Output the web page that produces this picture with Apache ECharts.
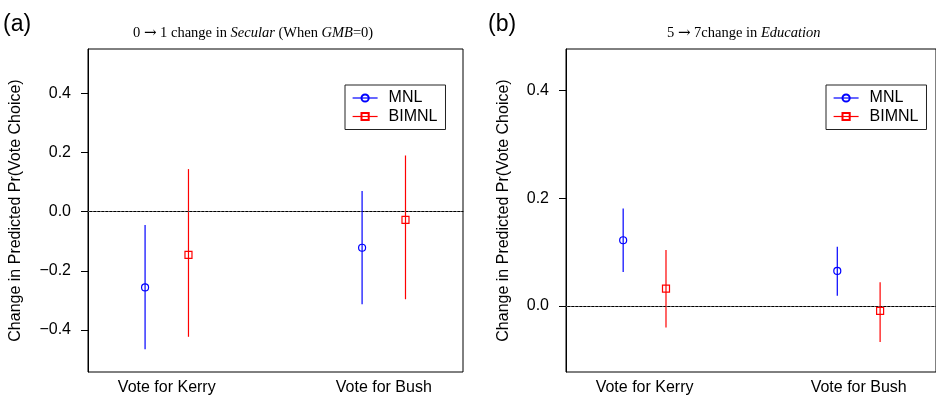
<!DOCTYPE html>
<html>
<head>
<meta charset="utf-8">
<script src="https://cdn.jsdelivr.net/npm/echarts@6/dist/echarts.min.js"></script>
<style>
  html, body { margin: 0; padding: 0; background: #fff; }
  #chart { width: 936px; height: 398px; }
</style>
</head>
<body>
<div id="chart"></div>
<script>
const categories = ['Vote for Kerry', 'Vote for Bush']

// panel (a): 0 -> 1 change in Secular
const mnlA = [-0.256, -0.122]
const mnlALow = [-0.465, -0.313]
const mnlAHigh = [-0.045, 0.070]
const bimnlA = [-0.146, -0.028]
const bimnlALow = [-0.423, -0.296]
const bimnlAHigh = [0.144, 0.190]

// panel (b): 5 -> 7 change in Education
const mnlB = [0.122, 0.065]
const mnlBLow = [0.063, 0.019]
const mnlBHigh = [0.181, 0.110]
const bimnlB = [0.032, -0.009]
const bimnlBLow = [-0.040, -0.067]
const bimnlBHigh = [0.104, 0.044]

const yTicksA = [-0.4, -0.2, 0, 0.2, 0.4]
const yTicksB = [0, 0.2, 0.4]

const BLUE = '#0000ff'
const RED = '#ff0000'
const SANS = 'Liberation Sans'
const SERIF = 'Liberation Serif'

const catPos = categories.map((c, i) => i + 1)
const OFFSET = 0.1

function fmtTick(v) {
  return (v < 0 ? '\u2212' : '') + Math.abs(v).toFixed(1)
}

function pointData(vals, off) {
  return vals.map((v, i) => [catPos[i] + off, v])
}

function barData(lo, hi, off) {
  return lo.map((v, i) => [catPos[i] + off, v, hi[i]])
}

function errorBars(idx, lo, hi, off, color) {
  return {
    type: 'custom',
    xAxisIndex: idx,
    yAxisIndex: idx,
    silent: true,
    z: 2,
    data: barData(lo, hi, off),
    encode: { x: 0, y: [1, 2] },
    renderItem: (params, api) => {
      let p1 = api.coord([api.value(0), api.value(1)])
      let p2 = api.coord([api.value(0), api.value(2)])
      return {
        type: 'line',
        shape: { x1: p1[0], y1: p1[1], x2: p2[0], y2: p2[1] },
        style: { stroke: color, lineWidth: 1.2 }
      }
    }
  }
}

function points(idx, name, vals, off, color, symbol, zeroLine) {
  let s = {
    type: 'line',
    name: name,
    xAxisIndex: idx,
    yAxisIndex: idx,
    data: pointData(vals, off),
    symbol: symbol,
    symbolSize: 7,
    showAllSymbol: true,
    z: 3,
    lineStyle: { color: color, opacity: 0 },
    itemStyle: { color: 'rgba(255,255,255,0)', borderColor: color, borderWidth: 1.2 }
  }
  if (zeroLine) {
    s.markLine = {
      silent: true,
      symbol: ['none', 'none'],
      label: { show: false },
      lineStyle: { type: [1.5, 2.5], color: '#666', width: 1 },
      data: [{ yAxis: 0 }]
    }
  }
  return s
}

function yAxisFor(idx, min, max, ticks, gap) {
  return {
    type: 'value',
    gridIndex: idx,
    min: min,
    max: max,
    name: 'Change in Predicted Pr(Vote Choice)',
    nameLocation: 'middle',
    nameRotate: 90,
    nameGap: gap,
    nameTextStyle: { fontFamily: SANS, fontSize: 16, color: '#000' },
    axisLine: { show: true, lineStyle: { color: '#000', width: 1 } },
    axisTick: { show: true, length: 7, customValues: ticks, lineStyle: { color: '#000' } },
    axisLabel: {
      customValues: ticks,
      formatter: fmtTick,
      margin: 17,
      fontFamily: SANS,
      fontSize: 16,
      color: '#000'
    },
    splitLine: { show: false }
  }
}

function xAxisFor(idx, min, max) {
  return {
    type: 'value',
    gridIndex: idx,
    min: min,
    max: max,
    axisLine: { show: true, lineStyle: { color: '#000', width: 1 } },
    axisTick: { show: false },
    axisLabel: {
      customValues: catPos,
      formatter: v => categories[Math.round(v) - 1],
      margin: 8,
      fontFamily: SANS,
      fontSize: 16,
      color: '#000'
    },
    splitLine: { show: false }
  }
}

function legendAt(left) {
  return {
    data: ['MNL', 'BIMNL'],
    orient: 'vertical',
    left: left,
    top: 85,
    padding: [5, 8, 5, 7],
    itemWidth: 25,
    itemHeight: 9,
    itemGap: 2.5,
    borderColor: '#222',
    borderWidth: 1,
    lineStyle: { opacity: 1, width: 1.2 },
    textStyle: { fontFamily: SANS, fontSize: 16, color: '#000', padding: [0, 0, 0, 6] }
  }
}

const titleStyle = {
  fontFamily: SERIF,
  fontSize: 14.5,
  fontWeight: 'normal',
  color: '#000',
  rich: {
    i: { fontStyle: 'italic', fontFamily: SERIF, fontSize: 14.5 },
    ar: { fontFamily: 'DejaVu Serif', fontSize: 15 }
  }
}

const labelStyle = { fontFamily: SANS, fontSize: 23, fontWeight: 'normal', color: '#000' }

let myChart = echarts.init(document.getElementById('chart'))
let options = {
  animation: false,
  backgroundColor: '#fff',
  title: [
    { text: '(a)', left: 3, top: 13, padding: 0, textStyle: labelStyle },
    { text: '(b)', left: 488, top: 13, padding: 0, textStyle: labelStyle },
    { text: '0 {ar|\u2192} 1 change in {i|Secular} (When {i|GMB}=0)', left: 133, top: 26, padding: 0, textStyle: titleStyle },
    { text: '5 {ar|\u2192} 7change in {i|Education}', left: 667, top: 26, padding: 0, textStyle: titleStyle }
  ],
  legend: [legendAt(345), legendAt(826)],
  grid: [
    { left: 88, top: 49, width: 375, height: 323, show: true, borderColor: '#000', borderWidth: 1 },
    { left: 566, top: 49, width: 375, height: 323, show: true, borderColor: '#000', borderWidth: 1 }
  ],
  xAxis: [xAxisFor(0, 0.637, 2.365), xAxisFor(1, 0.633, 2.361)],
  yAxis: [yAxisFor(0, -0.542, 0.55, yTicksA, 64), yAxisFor(1, -0.1226, 0.477, yTicksB, 54)],
  series: [
    errorBars(0, mnlALow, mnlAHigh, -OFFSET, BLUE),
    errorBars(0, bimnlALow, bimnlAHigh, OFFSET, RED),
    points(0, 'MNL', mnlA, -OFFSET, BLUE, 'circle', true),
    points(0, 'BIMNL', bimnlA, OFFSET, RED, 'rect', false),
    errorBars(1, mnlBLow, mnlBHigh, -OFFSET, BLUE),
    errorBars(1, bimnlBLow, bimnlBHigh, OFFSET, RED),
    points(1, 'MNL', mnlB, -OFFSET, BLUE, 'circle', true),
    points(1, 'BIMNL', bimnlB, OFFSET, RED, 'rect', false)
  ]
}
myChart.setOption(options, true)
window.onresize = myChart.resize
</script>
</body>
</html>
